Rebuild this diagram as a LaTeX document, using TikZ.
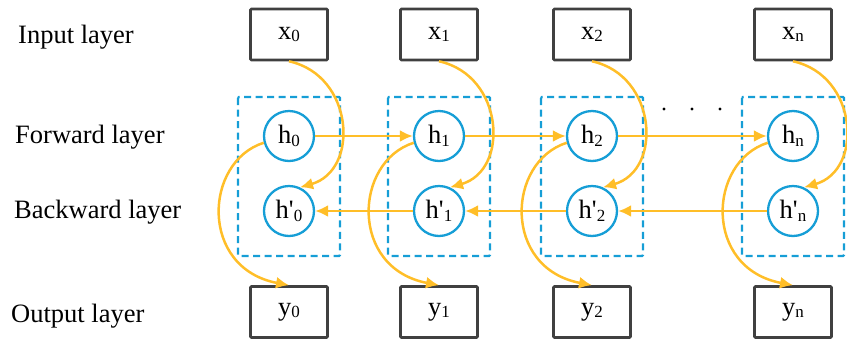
\documentclass[tikz,border=0pt]{standalone}
\usepackage{fontspec}
\setmainfont{Liberation Serif}
\usetikzlibrary{arrows.meta}
\definecolor{gold}{RGB}{255,190,40}
\definecolor{cblue}{RGB}{22,158,214}
\definecolor{bdark}{RGB}{64,64,64}
\newcommand\sbs[1]{\raisebox{-2.5pt}{\fontsize{17}{17}\selectfont #1}}
\tikzset{
  big/.style={font=\fontsize{26.5}{30}\selectfont},
  iobox/.style={big, draw=bdark, line width=2.6pt, rounded corners=1pt, minimum width=77pt, minimum height=51pt, inner sep=0pt},
  hcirc/.style={big, draw=cblue, line width=2.3pt, circle, minimum size=50pt, inner sep=0pt},
  dbox/.style={draw=cblue, line width=2.3pt, dash pattern=on 7pt off 4.5pt, rounded corners=1pt},
  link/.style={draw=gold, line width=2.5pt, -{Latex[length=13pt,width=12pt]}},
  lab/.style={big, anchor=base west, inner sep=0pt},
}
\begin{document}
\begin{tikzpicture}[x=1pt,y=-1pt]
\useasboundingbox (0,0) rectangle (847,341);
% labels
\node[lab] (lin) at (18,43) {Input layer};
\node[lab] (lfw) at (15,143) {Forward layer};
\node[lab] (lbw) at (14,218) {Backward layer};
\node[lab] (lout) at (11,322) {Output layer};
% dashed boxes
\foreach \c/\n in {289/0,439/1,592/2,793/n}{
  \draw[dbox] (\c-51,97) rectangle (\c+51,256);
}
% nodes
\foreach \c/\n in {289/0,439/1,592/2,793/n}{
  \node[iobox] (x\n) at (\c,34.5) {x\sbs{\n}};
  \node[iobox] (y\n) at (\c,312) {y\sbs{\n}};
  \node[hcirc] (h\n) at (\c,136) {h\sbs{\n}};
  \node[hcirc] (hp\n) at (\c,211) {h\textquotesingle\sbs{\n}};
}
% dots
\foreach \xx in {664,692,720}{
  \fill (\xx,109) circle (1.7pt);
}
% curves
\foreach \n in {0,1,2,n}{
  \draw[link] (x\n.south) .. controls +(65,14) and +(60,-17) .. (hp\n.65);
  \draw[link] (h\n.195) .. controls +(-60,19) and +(-90,-17) .. (y\n.north);
}
% forward / backward
\draw[link] (h0.east) -- (h1.west);
\draw[link] (h1.east) -- (h2.west);
\draw[link] (h2.east) -- (hn.west);
\draw[link] (hp1.west) -- (hp0.east);
\draw[link] (hp2.west) -- (hp1.east);
\draw[link] (hpn.west) -- (hp2.east);
\end{tikzpicture}
\end{document}
